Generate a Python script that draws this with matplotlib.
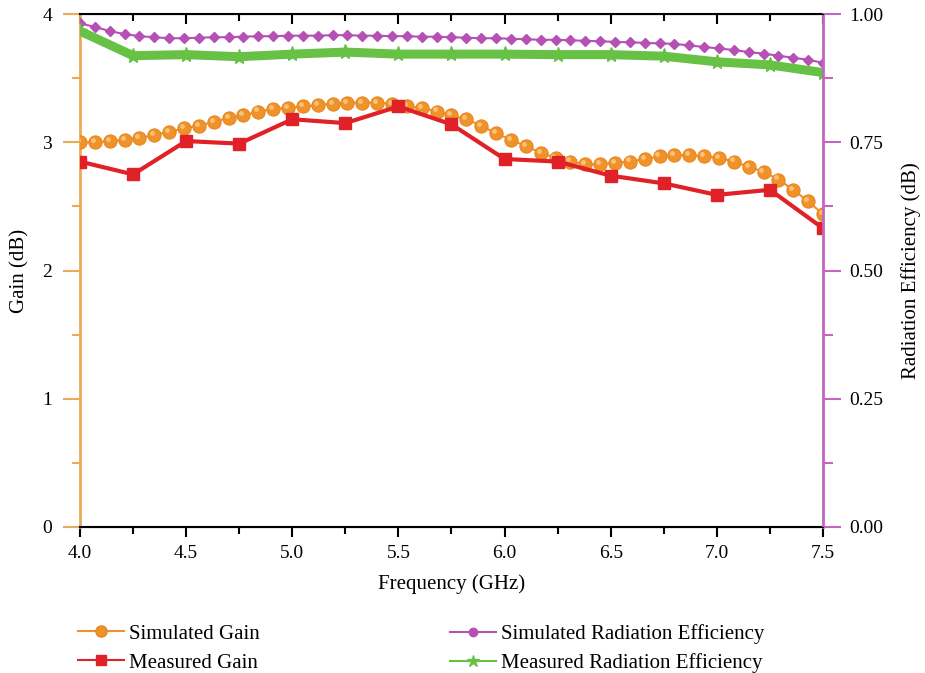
import numpy as np
import matplotlib
matplotlib.use("Agg")
import matplotlib.pyplot as plt
from matplotlib.lines import Line2D
from matplotlib.ticker import MultipleLocator
from matplotlib.transforms import ScaledTranslation

plt.rcParams['font.family'] = ['Liberation Serif', 'DejaVu Serif']
plt.rcParams['font.size'] = 14

# simulated sweep: 51 points, 4.0 - 7.5 GHz
freq_sim = np.linspace(4.0, 7.5, 51)
gain_sim = [3.00, 3.00, 3.01, 3.02, 3.03, 3.06, 3.08, 3.11, 3.13, 3.16,
            3.19, 3.21, 3.24, 3.26, 3.27, 3.28, 3.29, 3.30, 3.31, 3.31,
            3.31, 3.30, 3.28, 3.27, 3.24, 3.21, 3.18, 3.13, 3.07, 3.02,
            2.97, 2.92, 2.88, 2.85, 2.83, 2.83, 2.84, 2.85, 2.87, 2.89,
            2.90, 2.90, 2.89, 2.88, 2.85, 2.81, 2.77, 2.71, 2.63, 2.54,
            2.44]
eff_sim = [0.982, 0.975, 0.967, 0.961, 0.957, 0.955, 0.953, 0.953, 0.954, 0.955,
           0.955, 0.956, 0.957, 0.957, 0.958, 0.958, 0.958, 0.959, 0.959, 0.958,
           0.958, 0.957, 0.957, 0.956, 0.956, 0.955, 0.954, 0.953, 0.953, 0.952,
           0.951, 0.950, 0.950, 0.949, 0.948, 0.947, 0.946, 0.945, 0.944, 0.943,
           0.942, 0.939, 0.936, 0.933, 0.930, 0.926, 0.923, 0.919, 0.915, 0.911,
           0.905]

# measured: every 0.25 GHz
freq_meas = [4.0, 4.25, 4.5, 4.75, 5.0, 5.25, 5.5, 5.75, 6.0, 6.25, 6.5, 6.75, 7.0, 7.25, 7.5]
gain_meas = [2.85, 2.75, 3.01, 2.99, 3.18, 3.15, 3.28, 3.14, 2.87, 2.85, 2.74, 2.68, 2.59, 2.63, 2.33]
eff_meas = [0.967, 0.919, 0.921, 0.917, 0.922, 0.926, 0.922, 0.922, 0.922, 0.921, 0.921, 0.918, 0.907, 0.901, 0.886]

labels = ['Simulated Gain', 'Measured Gain',
          'Simulated Radiation Efficiency', 'Measured Radiation Efficiency']

c_orange = '#f0922a'
c_red = '#e02228'
c_purple = '#b550b5'
c_green = '#66c144'
c_left = '#eaaa5c'
c_right = '#c266c0'

fig = plt.figure(figsize=(9.25, 6.73), dpi=100)
ax = fig.add_axes([0.0865, 0.217, 0.8032, 0.762])
ax2 = ax.twinx()

ax.plot(freq_sim, gain_sim, '-', color=c_orange, lw=1.5, marker='o', ms=9.5,
        mfc=c_orange, mec='#e8871c', mew=0.8, zorder=3)
# small highlight on each sphere
hl = ScaledTranslation(-1.5 / 72, 1.5 / 72, fig.dpi_scale_trans)
ax.plot(freq_sim, gain_sim, 'o', color='#f8c27a', ms=3.5, mew=0,
        transform=ax.transData + hl, zorder=4)
ax.plot(freq_meas, gain_meas, '-', color=c_red, lw=3, marker='s', ms=8,
        mfc=c_red, mec=c_red, zorder=5)

ax2.plot(freq_sim, eff_sim, '-', color=c_purple, lw=1.5, marker='D', ms=5,
         mfc=c_purple, mec=c_purple)
ax2.plot(freq_meas, eff_meas, '-', color=c_green, lw=6.5, marker='*', ms=11,
         mfc=c_green, mec=c_green)

ax.set_xlim(4.0, 7.5)
ax.set_ylim(0, 4)
ax2.set_ylim(0, 1.0)

ax.xaxis.set_major_locator(MultipleLocator(0.5))
ax.xaxis.set_minor_locator(MultipleLocator(0.25))
ax.yaxis.set_major_locator(MultipleLocator(1))
ax.yaxis.set_minor_locator(MultipleLocator(0.5))
ax2.yaxis.set_major_locator(MultipleLocator(0.25))
ax2.yaxis.set_minor_locator(MultipleLocator(0.125))
ax.xaxis.set_major_formatter(plt.FormatStrFormatter('%.1f'))
ax2.yaxis.set_major_formatter(plt.FormatStrFormatter('%.2f'))

ax.tick_params(axis='x', which='both', direction='out', top=True, width=1.5)
ax.tick_params(axis='x', which='major', length=7, pad=6)
ax.tick_params(axis='x', which='minor', length=5)
ax.tick_params(axis='y', which='both', color=c_left, width=1.5)
ax.tick_params(axis='y', which='major', length=12, pad=8)
ax.tick_params(axis='y', which='minor', length=6)
ax2.tick_params(axis='y', which='both', color=c_right, width=1.5)
ax2.tick_params(axis='y', which='major', length=13, pad=6)
ax2.tick_params(axis='y', which='minor', length=7)
ax.xaxis.set_tick_params(which='both', labeltop=False)
for t in ax.xaxis.get_major_ticks() + ax.xaxis.get_minor_ticks():
    t.tick2line.set_marker(3)  # top ticks point into the plot

for side in ('top', 'bottom'):
    ax.spines[side].set_linewidth(1.5)
ax.spines['left'].set_color(c_left)
ax.spines['left'].set_linewidth(2)
ax2.spines['right'].set_color(c_right)
ax2.spines['right'].set_linewidth(2)
ax2.spines['left'].set_visible(False)
ax.spines['right'].set_visible(False)

ax.set_xlabel('Frequency (GHz)', fontsize=15)
ax.xaxis.set_label_coords(0.5, -0.093)
ax.set_ylabel('Gain (dB)', fontsize=15, labelpad=9)
ax2.set_ylabel('Radiation Efficiency (dB)', fontsize=15, labelpad=13)

# legend keys drawn thin, as two separate columns
h_sim_gain = Line2D([], [], color=c_orange, lw=1.5, marker='o', ms=8,
                    mfc=c_orange, mec='#e8871c')
h_meas_gain = Line2D([], [], color=c_red, lw=1.5, marker='s', ms=7, mfc=c_red, mec=c_red)
h_sim_eff = Line2D([], [], color=c_purple, lw=1.5, marker='o', ms=6,
                   mfc=c_purple, mec=c_purple)
h_meas_eff = Line2D([], [], color=c_green, lw=1.5, marker='*', ms=9,
                    mfc=c_green, mec=c_green)

leg_kw = dict(loc='upper left', frameon=False, fontsize=15, handlelength=2.2,
              handletextpad=0.25, labelspacing=0.45, borderpad=0, borderaxespad=0)
fig.legend([h_sim_gain, h_meas_gain], labels[:2],
           bbox_to_anchor=(78 / 925, 1 - 624 / 673), **leg_kw)
fig.legend([h_sim_eff, h_meas_eff], labels[2:],
           bbox_to_anchor=(450 / 925, 1 - 624 / 673), **leg_kw)

fig.savefig('out.png', dpi=100)
